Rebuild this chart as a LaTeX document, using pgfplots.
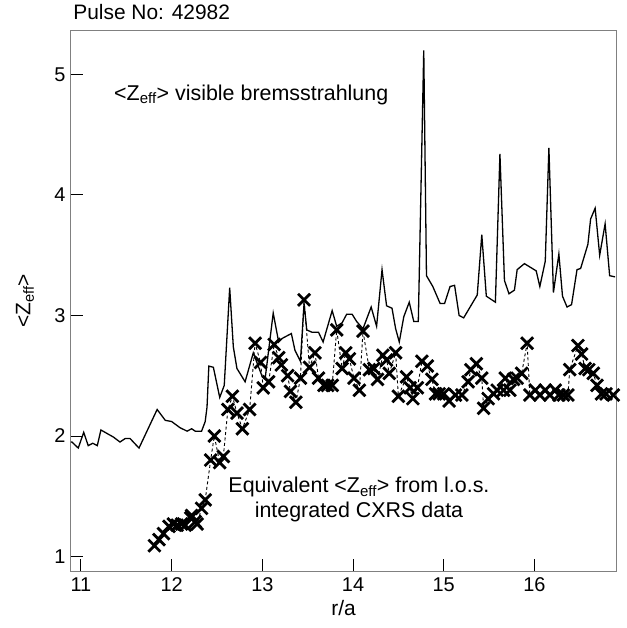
\documentclass[border=0pt]{standalone}
\usepackage{fontspec}
\setmainfont{Liberation Sans}
\usepackage{pgfplots}
\pgfplotsset{compat=1.18}
\newcommand{\zeff}{<Z\textsubscript{eff}>}
\begin{document}
\begin{tikzpicture}
\begin{axis}[
    name=ax,
    scale only axis,
    width=545bp, height=540bp,
    xmin=10.89, xmax=16.9,
    ymin=0.88, ymax=5.36,
    xtick={11,12,13,14,15,16},
    ytick={1,2,3,4,5},
    tick align=inside,
    xtick pos=bottom, ytick pos=left,
    major tick length=12bp,
    tick style={black, line width=1bp},
    axis line style={gray, line width=1bp},
    tick label style={font=\fontsize{20}{24}\selectfont},
    /pgf/number format/assume math mode=true,
    xticklabel style={yshift=-3bp},
    yticklabel style={xshift=-2bp},
    clip=false,
]
% visible bremsstrahlung
\addplot[black, line width=1.3bp] coordinates {
(10.89,1.95)(10.90,1.95)(10.97,1.90)(11.03,2.03)(11.08,1.92)(11.13,1.94)
(11.18,1.92)(11.22,2.05)(11.29,2.02)(11.36,1.99)(11.43,1.95)(11.49,1.98)
(11.54,1.98)(11.64,1.90)(11.84,2.22)(11.93,2.13)(12.00,2.12)(12.09,2.07)
(12.17,2.04)(12.22,2.06)(12.26,2.04)(12.33,2.04)(12.37,2.12)(12.39,2.24)
(12.41,2.58)(12.46,2.57)(12.53,2.32)(12.58,2.42)(12.64,3.23)(12.68,2.74)
(12.72,2.56)(12.81,2.45)(12.90,2.69)(13.00,2.49)(13.03,2.47)(13.12,3.02)
(13.18,2.78)(13.22,2.81)(13.32,2.85)(13.36,2.71)(13.42,2.62)(13.46,3.10)
(13.49,2.88)(13.55,2.86)(13.62,2.86)(13.67,2.78)(13.77,3.04)(13.82,2.91)
(13.88,2.94)(13.93,3.01)(13.99,3.01)(14.04,2.95)(14.11,2.89)(14.20,3.07)
(14.26,2.91)(14.32,3.38)(14.37,3.08)(14.43,3.06)(14.47,2.89)(14.51,2.78)
(14.56,2.99)(14.62,3.11)(14.67,2.95)(14.72,2.95)(14.78,5.20)(14.81,3.33)
(14.88,3.24)(14.96,3.10)(15.01,3.10)(15.07,3.24)(15.12,3.25)(15.17,3.00)
(15.22,2.98)(15.37,3.17)(15.42,3.67)(15.47,3.16)(15.57,3.11)(15.62,4.34)
(15.67,3.29)(15.72,3.18)(15.78,3.21)(15.81,3.38)(15.89,3.43)(16.02,3.37)
(16.06,3.24)(16.12,3.45)(16.16,4.39)(16.21,3.19)(16.27,3.51)(16.31,3.16)
(16.36,3.07)(16.41,3.09)(16.47,3.38)(16.51,3.39)(16.59,3.59)(16.62,3.80)
(16.67,3.89)(16.72,3.50)(16.78,3.76)(16.83,3.33)(16.89,3.32)
};
% CXRS equivalent
\addplot[black, line width=0.9bp, dash pattern=on 3bp off 2.5bp,
    mark=x, mark size=8.5bp, mark options={solid, line width=2.8bp}] coordinates {
(11.81,1.09)(11.86,1.14)(11.91,1.19)(11.97,1.25)(12.02,1.27)(12.06,1.26)
(12.11,1.27)(12.15,1.26)(12.21,1.32)(12.22,1.34)(12.26,1.29)(12.28,1.27)
(12.33,1.40)(12.37,1.47)(12.43,1.80)(12.47,2.00)(12.53,1.78)(12.57,1.83)
(12.62,2.22)(12.67,2.33)(12.72,2.19)(12.78,2.06)(12.86,2.22)(12.92,2.77)
(12.98,2.61)(13.01,2.40)(13.07,2.45)(13.13,2.76)(13.18,2.65)(13.21,2.59)
(13.28,2.50)(13.31,2.37)(13.37,2.28)(13.42,2.48)(13.46,3.13)(13.52,2.57)
(13.58,2.69)(13.62,2.48)(13.68,2.42)(13.72,2.42)(13.77,2.42)(13.82,2.88)
(13.88,2.56)(13.92,2.69)(13.96,2.64)(14.01,2.48)(14.07,2.38)(14.11,2.87)
(14.18,2.55)(14.23,2.56)(14.27,2.47)(14.33,2.67)(14.37,2.63)(14.40,2.52)
(14.47,2.69)(14.50,2.33)(14.59,2.49)(14.63,2.40)(14.66,2.31)(14.71,2.40)
(14.76,2.62)(14.82,2.58)(14.87,2.47)(14.91,2.35)(14.95,2.35)(15.00,2.35)
(15.06,2.29)(15.13,2.34)(15.20,2.34)(15.27,2.45)(15.30,2.55)(15.36,2.60)
(15.42,2.48)(15.44,2.23)(15.49,2.31)(15.55,2.35)(15.59,2.38)(15.66,2.38)
(15.68,2.48)(15.73,2.38)(15.77,2.47)(15.81,2.48)(15.86,2.52)(15.92,2.77)
(15.95,2.34)(16.01,2.38)(16.06,2.34)(16.12,2.38)(16.17,2.34)(16.23,2.38)
(16.27,2.34)(16.32,2.34)(16.37,2.34)(16.39,2.55)(16.48,2.75)(16.52,2.68)
(16.56,2.56)(16.60,2.55)(16.65,2.52)(16.69,2.42)(16.74,2.35)(16.79,2.35)
(16.87,2.34)
};
\node[anchor=base west, inner sep=0pt, font=\fontsize{21}{25}\selectfont]
    at (axis description cs:0.004,1.0204) {Pulse No: 42982};
\node[anchor=base west, inner sep=0pt, font=\fontsize{21.5}{26}\selectfont]
    at (axis description cs:0.0789,0.872) {\zeff{} visible bremsstrahlung};
\node[anchor=base, inner sep=0pt, font=\fontsize{21.5}{26}\selectfont]
    at (axis description cs:0.5284,0.1457) {Equivalent \zeff{} from l.o.s.};
\node[anchor=base, inner sep=0pt, font=\fontsize{21.5}{26}\selectfont]
    at (axis description cs:0.5284,0.0991) {integrated CXRS data};
\node[anchor=base, inner sep=0pt, font=\fontsize{21}{25}\selectfont]
    at (axis description cs:0.5,-0.0833) {r/a};
\node[rotate=90, anchor=center, inner sep=0pt, font=\fontsize{21}{25}\selectfont]
    at (axis description cs:-0.0844,0.5) {\zeff};
\end{axis}
\pgfresetboundingbox
\path ([shift={(-71bp,-57bp)}]ax.south west) rectangle ([shift={(11bp,31bp)}]ax.north east);
\end{tikzpicture}
\end{document}
